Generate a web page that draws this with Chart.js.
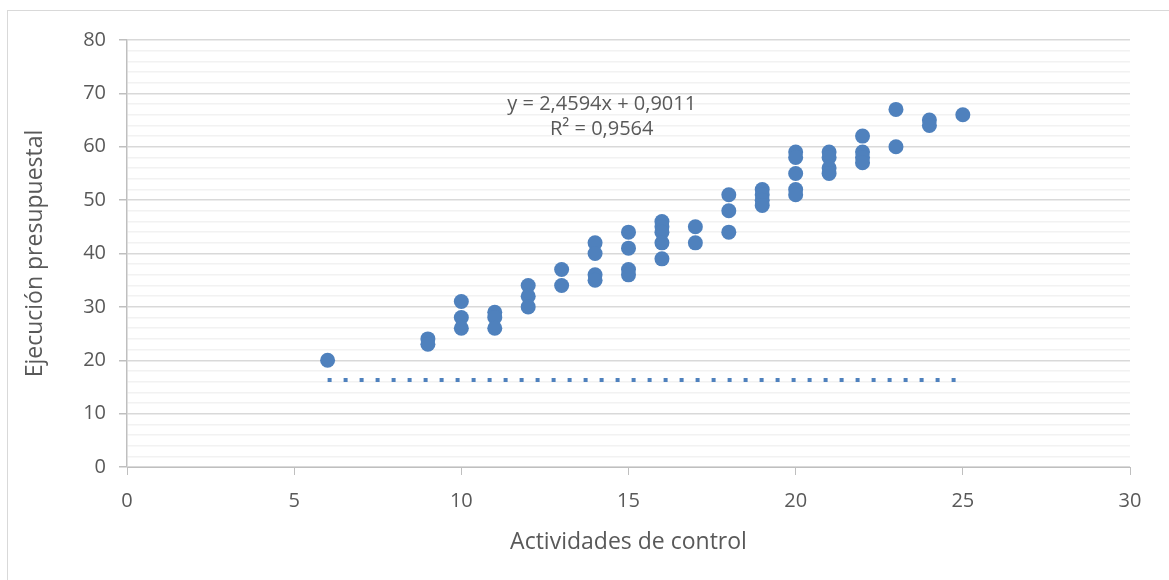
<!DOCTYPE html>
<html>
<head>
<meta charset="utf-8">
<script src="https://cdn.jsdelivr.net/npm/chart.js@4.4.1/dist/chart.umd.min.js"></script>
<style>
  html, body { margin: 0; padding: 0; background: #ffffff; }
  #wrap { width: 1169px; height: 580px; }
</style>
</head>
<body>
<div id="wrap"><canvas id="grafico" width="1169" height="580"></canvas></div>
<script>
// Datos: actividades de control (x) y ejecución presupuestal (y)
var actividades = [6, 9, 9, 10, 10, 10, 11, 11, 11, 12, 12, 12, 13, 13,
  14, 14, 14, 14, 15, 15, 15, 15, 16, 16, 16, 16, 16, 17, 17, 18, 18, 18,
  19, 19, 19, 19, 20, 20, 20, 20, 20, 21, 21, 21, 21, 22, 22, 22, 22,
  23, 23, 24, 24, 25];
var ejecucion = [20, 24, 23, 31, 28, 26, 29, 28, 26, 34, 32, 30, 37, 34,
  42, 40, 36, 35, 44, 41, 37, 36, 46, 45, 44, 42, 39, 45, 42, 51, 48, 44,
  52, 51, 50, 49, 59, 58, 55, 52, 51, 59, 58, 56, 55, 62, 59, 58, 57,
  67, 60, 65, 64, 66];

// linea punteada (tal como aparece en la figura)
var lineaX = [6, 25];
var lineaY = [16.3, 16.3];

var ecuacion = ["y = 2,4594x + 0,9011", "R² = 0,9564"];
var ecuacionPos = { x: 14.2, y: 66.9 };

var tituloX = "Actividades de control";
var tituloY = "Ejecución presupuestal";

var azul = "#4f81bd";
var gris = "#595959";
var fuente = "'Open Sans', sans-serif";

var puntos = actividades.map(function (v, i) {
  return { x: v, y: ejecucion[i] };
});
var linea = lineaX.map(function (v, i) {
  return { x: v, y: lineaY[i] };
});

// marco exterior y texto de la ecuacion
var marcoPlugin = {
  id: "marco",
  beforeDraw: function (chart) {
    var ctx = chart.ctx;
    ctx.save();
    ctx.fillStyle = "#ffffff";
    ctx.fillRect(0, 0, chart.width, chart.height);
    ctx.strokeStyle = "#d9d9d9";
    ctx.lineWidth = 1;
    ctx.strokeRect(7.5, 10.5, chart.width + 10, chart.height + 10);
    ctx.restore();
  },
  afterDatasetsDraw: function (chart) {
    var ctx = chart.ctx;
    var px = chart.scales.x.getPixelForValue(ecuacionPos.x);
    var py = chart.scales.y.getPixelForValue(ecuacionPos.y);
    ctx.save();
    ctx.fillStyle = gris;
    ctx.font = "20px " + fuente;
    ctx.textAlign = "center";
    ctx.textBaseline = "alphabetic";
    ctx.fillText(ecuacion[0], px, py);
    ctx.fillText(ecuacion[1], px, py + 25);
    ctx.restore();
  }
};

new Chart(document.getElementById("grafico"), {
  type: "scatter",
  data: {
    datasets: [
      {
        label: "Ejecución",
        data: puntos,
        backgroundColor: azul,
        borderColor: azul,
        borderWidth: 0,
        pointRadius: 7.5,
        pointHoverRadius: 7.5,
      },
      {
        label: "Tendencia",
        type: "line",
        data: linea,
        showLine: true,
        borderColor: azul,
        borderWidth: 4,
        borderDash: [4, 12],
        borderCapStyle: "butt",
        pointRadius: 0,
        fill: false,
      },
    ],
  },
  options: {
    responsive: false,
    animation: false,
    devicePixelRatio: 1,
    layout: { padding: { top: 40, right: 39, left: 0, bottom: 0 } },
    plugins: {
      legend: { display: false },
      tooltip: { enabled: false },
    },
    scales: {
      x: {
        type: "linear",
        min: 0,
        max: 30,
        ticks: {
          stepSize: 5,
          color: gris,
          padding: 14,
          font: { size: 20, family: fuente },
        },
        grid: {
          drawOnChartArea: false,
          drawTicks: true,
          tickLength: 8,
          tickColor: "#bfbfbf",
        },
        border: { color: "#bfbfbf", width: 1 },
        title: {
          display: true,
          text: tituloX,
          color: gris,
          font: { size: 23, family: fuente },
          padding: { top: 0, bottom: 24 },
        },
        afterFit: function (scale) {
          scale.height = 113;
        },
      },
      y: {
        type: "linear",
        min: 0,
        max: 80,
        ticks: {
          stepSize: 2,
          autoSkip: false,
          color: gris,
          padding: 13,
          font: { size: 20, family: fuente },
          callback: function (v) {
            return v % 10 === 0 ? v : "";
          },
        },
        grid: {
          color: function (c) {
            return c.tick && c.tick.value % 10 === 0 ? "#d9d9d9" : "#f2f2f2";
          },
          lineWidth: 1.5,
          tickLength: 8,
          tickColor: function (c) {
            return c.tick && c.tick.value % 10 === 0 ? "#bfbfbf" : "rgba(0,0,0,0)";
          },
        },
        border: { color: "#bfbfbf", width: 1.5 },
        title: {
          display: true,
          text: tituloY,
          color: gris,
          font: { size: 23, family: fuente },
          padding: { top: 22, bottom: 0 },
        },
        afterFit: function (scale) {
          scale.width = 127;
        },
      },
    },
  },
  plugins: [marcoPlugin],
});
</script>
</body>
</html>
